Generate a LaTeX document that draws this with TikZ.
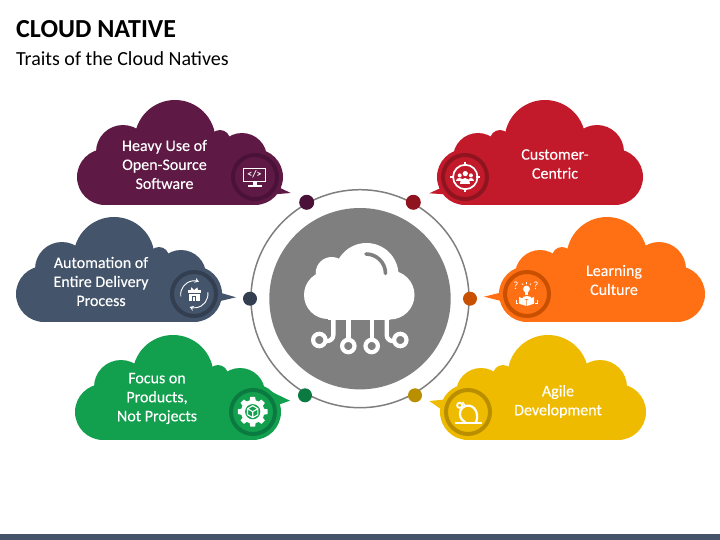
\documentclass[tikz,border=0pt]{standalone}
\usepackage{fontspec}
\setmainfont{Carlito}
\newfontfamily\labelfont[FakeBold=0.25]{Carlito}
\usetikzlibrary{arrows.meta,positioning}
\definecolor{PlumFill}{HTML}{5E1A45}
\definecolor{PlumDark}{HTML}{4A1238}
\definecolor{SlateFill}{HTML}{44546A}
\definecolor{SlateDark}{HTML}{333F50}
\definecolor{LeafFill}{HTML}{13A04E}
\definecolor{LeafDark}{HTML}{0B7A40}
\definecolor{CrimsonFill}{HTML}{C21A2B}
\definecolor{CrimsonDark}{HTML}{8F1420}
\definecolor{AmberFill}{HTML}{FF7014}
\definecolor{AmberDark}{HTML}{C85000}
\definecolor{GoldFill}{HTML}{EEBB00}
\definecolor{GoldDark}{HTML}{B98F00}
\definecolor{HubGray}{HTML}{7F7F7F}
\tikzset{
  cloudbody/.pic={
    \fill (-150,0) circle[radius=28] (-132,-25) circle[radius=27] (-80,-36.5) circle[radius=40.5]
      (-35,-37) circle[radius=10] (-13,-19) circle[radius=25] (0,0) circle[radius=28];
    \fill (-150,-20) rectangle (0,28);
    \fill (-125,-35) rectangle (-13,0);
  },
  gearicon/.pic={
    \foreach \a in {0,45,...,315} {\fill[white,rotate=\a] (-2.4,-14.8) -- (2.4,-14.8) -- (3.4,-9) -- (-3.4,-9) -- cycle;}
    \fill[white] (0,0) circle[radius=11.8];
  },
  iconring/.style={circle, draw, line width=4pt, minimum size=44pt, inner sep=0pt},
  dotnode/.style={circle, minimum size=15pt, inner sep=0pt},
  cloudlabel/.style={text=white, align=center, font=\fontsize{16}{19}\labelfont},
  iconline/.style={draw=white, line width=1.3pt}
}
\begin{document}
\begin{tikzpicture}[x=1pt, y=-1pt]
\useasboundingbox (0,0) rectangle (720,540);
\fill[SlateFill] (0,534) rectangle (720,540);

\node[anchor=base west, inner sep=0pt, font=\fontsize{26}{30}\selectfont\bfseries] (title) at (16,38) {CLOUD NATIVE};
\node[anchor=base west, inner sep=0pt, font=\fontsize{20}{24}\selectfont] (subtitle) at (16,66) {Traits of the Cloud Natives};

\node[circle, draw=HubGray, line width=1.5pt, minimum size=218pt, inner sep=0pt] (ring) at (360,298.7) {};
\node[circle, fill=HubGray, minimum size=181.4pt, inner sep=0pt] (hub) at (360,298.7) {};

\node[dotnode, fill=PlumDark] (dotA) at (306.7,202.3) {};
\node[dotnode, fill=SlateDark, minimum size=14pt] (dotB) at (250,298.7) {};
\node[dotnode, fill=LeafDark, minimum size=14pt] (dotC) at (305,395.3) {};
\node[dotnode, fill=CrimsonDark] (dotD) at (413.3,202.3) {};
\node[dotnode, fill=AmberDark, minimum size=14pt] (dotE) at (470,298.7) {};
\node[dotnode, fill=GoldDark, minimum size=14pt] (dotF) at (415,395.3) {};

\fill[white] (366.5,275) circle[radius=32] (331.7,273) circle[radius=16] (390,295) circle[radius=24.5] (328,295) circle[radius=24];
\fill[white] (328,280) rectangle (390,319.5);
\draw[HubGray, line width=3.6pt, line cap=round] (366,254) arc[start angle=-90, end angle=0, radius=19.5];
\draw[white, line width=4.4pt, rounded corners=6pt] (333.3,317) -- (333.3,341) -- (319.3,341);
\draw[white, line width=4.4pt] (348.3,317) -- (348.3,346);
\draw[white, line width=4.4pt] (371.7,317) -- (371.7,346);
\draw[white, line width=4.4pt, rounded corners=6pt] (386.7,317) -- (386.7,341) -- (400.3,341);
\draw[white, fill=HubGray, line width=4.2pt] (319.3,340) circle[radius=6.2] (348.3,346) circle[radius=6.2] (371.7,346) circle[radius=6.2] (400.3,340) circle[radius=6.2];

\pic[PlumFill] at (255,177) {cloudbody};
\fill[PlumFill] (276,186) -- (290.7,193) -- (272,194.5) -- cycle;
\pic[SlateFill] at (194,294) {cloudbody};
\fill[SlateFill] (216,291.5) -- (236,297.3) -- (214,302.5) -- cycle;
\pic[LeafFill] at (253,412) {cloudbody};
\fill[LeafFill] (272,392) -- (290,400.7) -- (272,407) -- cycle;
\pic[CrimsonFill, xscale=-1] at (465,177) {cloudbody};
\fill[CrimsonFill] (445,186) -- (429.3,193.3) -- (448,194.5) -- cycle;
\pic[AmberFill, xscale=-1] at (527,294) {cloudbody};
\fill[AmberFill] (505,291.5) -- (484,296.7) -- (507,302.5) -- cycle;
\pic[GoldFill, xscale=-1] at (468,412) {cloudbody};
\fill[GoldFill] (450,399) -- (429.3,401) -- (445,412) -- cycle;

\node[iconring, draw=PlumDark] (iconA) at (255,177) {};
\node[iconring, draw=SlateDark] (iconB) at (194,294) {};
\node[iconring, draw=LeafDark] (iconC) at (253,412) {};
\node[iconring, draw=CrimsonDark] (iconD) at (465,177) {};
\node[iconring, draw=AmberDark] (iconE) at (527,294) {};
\node[iconring, draw=GoldDark] (iconF) at (468,412) {};

\node[cloudlabel] (labelA) at (164.5,164.5) {Heavy Use of\\Open-Source\\Software};
\node[cloudlabel] (labelB) at (101,281.5) {Automation of\\Entire Delivery\\Process};
\node[cloudlabel] (labelC) at (157,398.5) {Focus on\\Products,\\Not Projects};
\node[cloudlabel] (labelD) at (555,164) {Customer-\\Centric};
\node[cloudlabel] (labelE) at (614,280) {Learning\\Culture};
\node[cloudlabel] (labelF) at (558,401.5) {Agile\\Development};

% monitor
\begin{scope}[shift={(254.5,177.3)}]
\draw[iconline, line width=1.5pt] (-11,-9) rectangle (11,4.4);
\fill[white] (-2,4) rectangle (2,8.2);
\fill[white] (-7,8) rectangle (7,10);
\node[text=white, inner sep=0pt, font=\fontsize{10}{10}\selectfont\bfseries] (codetag) at (0,-2.6) {</>};
\end{scope}

% target with people
\begin{scope}[shift={(465.3,177)}]
\draw[white, line width=1.7pt] (0,0) circle[radius=12.2];
\draw[white, line width=1.7pt] (0,-15) -- (0,-11) (0,11) -- (0,15) (-15,0) -- (-11,0) (11,0) -- (15,0);
\fill[white] (0,-3.4) circle[radius=2.6] (-5.6,-1.6) circle[radius=2] (5.6,-1.6) circle[radius=2];
\fill[white] (-9,4.4) .. controls (-9,0) and (-2.5,0) .. (-2.5,4.4) -- cycle;
\fill[white] (2.5,4.4) .. controls (2.5,0) and (9,0) .. (9,4.4) -- cycle;
\fill[white] (-5,7) .. controls (-5,-1) and (5,-1) .. (5,7) -- cycle;
\end{scope}

% gift with arrows
\begin{scope}[shift={(194.3,294.3)}]
\draw[white, line width=0.9pt, -{Stealth[length=4pt,width=5pt]}] (-13.5,2) arc[start angle=172, end angle=290, radius=13.6];
\draw[white, line width=0.9pt, -{Stealth[length=4pt,width=5pt]}] (13.5,-2) arc[start angle=-8, end angle=110, radius=13.6];
\fill[white] (-6.6,-4.2) rectangle (6.6,-1);
\fill[white] (-5.6,-0.2) rectangle (5.6,7);
\fill[white] (-3,-7) -- (0,-4.2) -- (3,-7) -- (3.6,-4.2) -- (-3.6,-4.2) -- cycle;
\draw[SlateFill, line width=0.9pt] (-1.6,7) -- (-1.6,2.4) -- (1.6,2.4) -- (1.6,7);
\end{scope}

% gear with cube
\begin{scope}[shift={(252.7,411.7)}]
\pic {gearicon};
\fill[LeafFill] (0,0) circle[radius=7.6];
\draw[white, line width=1.1pt, line join=round] (0,-6) -- (5.2,-3) -- (5.2,3) -- (0,6) -- (-5.2,3) -- (-5.2,-3) -- cycle (-5.2,-3) -- (0,0) -- (5.2,-3) (0,0) -- (0,6);
\end{scope}

% learner with book
\begin{scope}[shift={(527,294)}]
\node[text=white, inner sep=0pt, font=\fontsize{11}{11}\selectfont] (askL) at (-11,-8.6) {?};
\node[text=white, inner sep=0pt, font=\fontsize{11}{11}\selectfont] (askR) at (9,-8.6) {?};
\fill[white] (-0.5,-5) circle[radius=3.4];
\fill[white] (-2.2,-2) rectangle (1.2,0.6);
\draw[white, line width=0.7pt] (-0.5,-12) -- (-0.5,-10) (-5,-10.4) -- (-3.8,-9) (4,-10.4) -- (2.8,-9);
\fill[white] (-5.5,5) .. controls (-5.5,0.8) and (4.5,0.8) .. (4.5,5) -- cycle;
\fill[white] (-8,3) -- (-0.7,6) -- (-0.7,12) -- (-8,9.6) -- cycle;
\fill[white] (7,3) -- (-0.1,6) -- (-0.1,12) -- (7,9.6) -- cycle;
\draw[white, line width=0.7pt] (-11,6) -- (-11,9) -- (-9,9) (10,6) -- (10,9) -- (8,9);
\end{scope}

% sprint loop
\begin{scope}[shift={(467.7,412)}]
\draw[white, line width=2pt] (-12.7,10.7) -- (14,10.7);
\draw[white, line width=2.2pt] (8,10.7) .. controls (10.5,7) and (10.5,-4.5) .. (1.5,-6.4) .. controls (-3.5,-7.2) and (-8,-3) .. (-7.8,2) .. controls (-7.6,6.5) and (-5,9) .. (-2,10.7);
\draw[white, line width=1.8pt] (-8,-6.7) circle[radius=2.6];
\draw[white, line width=1.5pt] (-5,-10) -- (-3,-6.5);
\end{scope}
\end{tikzpicture}
\end{document}
